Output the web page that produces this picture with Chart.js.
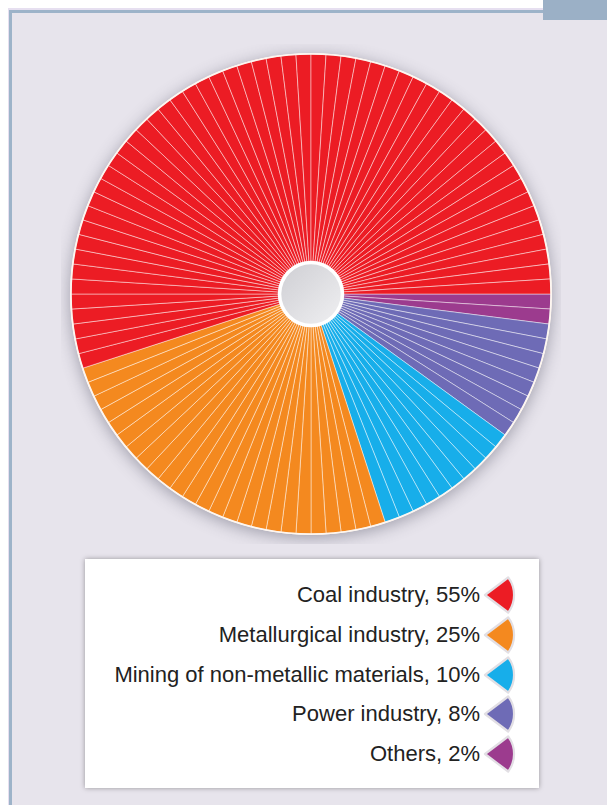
<!DOCTYPE html>
<html>
<head>
<meta charset="utf-8">
<script src="https://cdn.jsdelivr.net/npm/chart.js@4"></script>
<style>
  html, body { margin: 0; padding: 0; background: #fff; }
  body { width: 607px; height: 805px; position: relative; overflow: hidden; font-family: "Liberation Sans", Arial, sans-serif; }
  #panel {
    position: absolute; left: 9px; top: 10px; width: 620px; height: 820px;
    background: #e7e4ec;
    border-left: 3px solid #9db3c9; border-top: 3px solid #9db3c9;
    box-shadow: -1px -2px 0 #e6dff0;
  }
  #tab { position: absolute; left: 543px; top: 0; width: 64px; height: 20px; background: #9bb0c6; }
  #chartBox { position: absolute; left: 61px; top: 44px; width: 500px; height: 500px; }
  #legend {
    position: absolute; left: 85px; top: 559px; width: 454px; height: 229px;
    background: #fff; box-shadow: 0 0 5px rgba(0,0,0,0.35);
  }
  .row { position: absolute; left: 0; width: 432px; height: 40px; }
  .row span {
    position: absolute; right: 37px; top: 0; line-height: 40px;
    font-size: 22px; color: #222; white-space: nowrap;
  }
  .row svg { position: absolute; left: 397px; top: 1px; }
</style>
</head>
<body>
<div id="panel"></div>
<div id="tab"></div>
<div id="chartBox"><canvas id="chart"></canvas></div>
<div id="legend"></div>

<script>
// data, in legend order
const categories = ['Coal industry', 'Metallurgical industry', 'Mining of non-metallic materials', 'Power industry', 'Others'];
const shares = [55, 25, 10, 8, 2];
const colors = ['#ec1c24', '#f4891f', '#17aeea', '#6e6bb6', '#9c3b8e'];

// the pie is drawn clockwise from 3 o'clock: Others first, Coal last
const order = [4, 3, 2, 1, 0];

// every percent is its own thin wedge, as in the picture
const sliceLabels = [];
const sliceValues = [];
const sliceColors = [];
order.forEach(i => {
  for (let k = 0; k < shares[i]; k++) {
    sliceLabels.push(categories[i]);
    sliceValues.push(1);
    sliceColors.push(colors[i]);
  }
});

// shadow under the disc, white rim and the grey hole
const pieDecor = {
  id: 'pieDecor',
  beforeDatasetsDraw(chart) {
    const arc = chart.getDatasetMeta(0).data[0];
    const {x, y, outerRadius} = arc.getProps(['x', 'y', 'outerRadius'], true);
    const ctx = chart.ctx;
    ctx.save();
    ctx.shadowColor = 'rgba(70,70,90,0.45)';
    ctx.shadowBlur = 16;
    ctx.shadowOffsetY = 3;
    ctx.beginPath();
    ctx.arc(x, y, outerRadius + 1, 0, Math.PI * 2);
    ctx.fillStyle = '#fbf4ef';
    ctx.fill();
    ctx.restore();
  },
  afterDatasetsDraw(chart) {
    const arc = chart.getDatasetMeta(0).data[0];
    const {x, y, outerRadius, innerRadius} = arc.getProps(['x', 'y', 'outerRadius', 'innerRadius'], true);
    const ctx = chart.ctx;
    ctx.save();
    ctx.beginPath();
    ctx.arc(x, y, outerRadius, 0, Math.PI * 2);
    ctx.strokeStyle = '#fdf6f0';
    ctx.lineWidth = 1.6;
    ctx.stroke();

    ctx.beginPath();
    ctx.arc(x, y, innerRadius + 0.5, 0, Math.PI * 2);
    ctx.fillStyle = '#ffffff';
    ctx.fill();
    const g = ctx.createLinearGradient(x - innerRadius, y - innerRadius, x + innerRadius, y + innerRadius);
    g.addColorStop(0, '#cdcdd2');
    g.addColorStop(1, '#f1f1f3');
    ctx.beginPath();
    ctx.arc(x, y, innerRadius - 3, 0, Math.PI * 2);
    ctx.fillStyle = g;
    ctx.fill();
    ctx.restore();
  }
};

new Chart(document.getElementById('chart'), {
  type: 'doughnut',
  data: {
    labels: sliceLabels,
    datasets: [{
      data: sliceValues,
      backgroundColor: sliceColors,
      borderColor: 'rgba(255,255,255,0.45)',
      borderWidth: 1,
      hoverOffset: 0
    }]
  },
  options: {
    responsive: true,
    maintainAspectRatio: false,
    animation: false,
    rotation: 90,
    radius: 240,
    cutout: 34,
    events: [],
    plugins: { legend: { display: false }, tooltip: { enabled: false } }
  },
  plugins: [pieDecor]
});

// legend, built from the same arrays
const legend = document.getElementById('legend');
categories.forEach((name, i) => {
  const row = document.createElement('div');
  row.className = 'row';
  row.style.top = (16 + i * 39.8) + 'px';
  const txt = document.createElement('span');
  txt.textContent = name + ', ' + shares[i] + '%';
  row.appendChild(txt);
  row.insertAdjacentHTML('beforeend',
    '<svg width="38" height="38" viewBox="0 0 38 38">' +
    '<path d="M3,19 L26.2,1.5 A29,29 0 0,1 26.2,36.5 Z" fill="' + colors[i] + '" ' +
    'stroke="#e2dfe4" stroke-width="2.2" stroke-linejoin="round"/></svg>');
  legend.appendChild(row);
});
</script>
</body>
</html>
